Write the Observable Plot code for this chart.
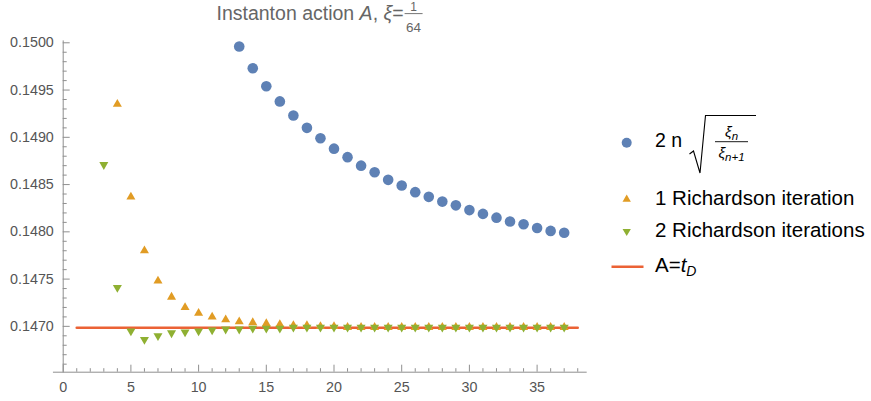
<!DOCTYPE html>
<html><head><meta charset="utf-8">
<script src="https://cdn.jsdelivr.net/npm/d3@7"></script>
<script src="https://cdn.jsdelivr.net/npm/@observablehq/plot@0.6"></script>
<style>
body{margin:0;background:#fff;font-family:"Liberation Sans",Arial,sans-serif}
#wrap{position:relative;width:871px;height:401px;overflow:hidden}
#chart{position:absolute;left:0;top:0}
#overlay{position:absolute;left:0;top:0}
</style></head><body>
<div id="wrap"><div id="chart"></div><svg id="overlay" width="871" height="401"></svg></div>
<script>
// ---- data ----
const blueN = [13,14,15,16,17,18,19,20,21,22,23,24,25,26,27,28,29,30,31,32,33,34,35,36,37];
const blueVals = [0.14996,0.14973,0.14954,0.14938,0.14923,0.14910,0.14899,0.14888,0.14879,0.14870,0.14863,0.14855,0.14849,0.14842,0.14837,0.14832,0.14828,0.14823,0.14819,0.14815,0.14811,0.14808,0.14804,0.14801,0.14799];

const orangeN = [4,5,6,7,8,9,10,11,12,13,14,15,16,17,18,19,20,21,22,23,24,25,26,27,28,29,30,31,32,33,34,35,36,37];
const orangeVals = [0.14935,0.14837,0.14780,0.14748,0.14731,0.14720,0.14714,0.14710,0.14707,0.14705,0.14704,0.14703,0.14702,0.14701,0.14701,0.14700,0.14700,0.14699,0.14699,0.14699,0.14699,0.14699,0.14699,0.14699,0.14699,0.14699,0.14699,0.14699,0.14699,0.14699,0.14699,0.14699,0.14699,0.14699];

const greenN = [3,4,5,6,7,8,9,10,11,12,13,14,15,16,17,18,19,20,21,22,23,24,25,26,27,28,29,30,31,32,33,34,35,36,37];
const greenVals = [0.14871,0.14741,0.14695,0.14686,0.14690,0.14693,0.14694,0.14695,0.14696,0.14697,0.14697,0.14698,0.14698,0.14698,0.14699,0.14699,0.14699,0.14699,0.14699,0.14699,0.14699,0.14699,0.14699,0.14699,0.14699,0.14699,0.14699,0.14699,0.14699,0.14699,0.14699,0.14699,0.14699,0.14699,0.14699];

const lineN = [1, 38];
const tD = 0.146986;

const xMajorTicks = [0,5,10,15,20,25,30,35];
const xMinorTicks = [1,2,3,4,6,7,8,9,11,12,13,14,16,17,18,19,21,22,23,24,26,27,28,29,31,32,33,34,36,37,38];
const yMajorTicks = [0.1470,0.1475,0.1480,0.1485,0.1490,0.1495,0.1500];
const yMinorTicks = [0.1466,0.1467,0.1468,0.1469,0.1471,0.1472,0.1473,0.1474,0.1476,0.1477,0.1478,0.1479,0.1481,0.1482,0.1483,0.1484,0.1486,0.1487,0.1488,0.1489,0.1491,0.1492,0.1493,0.1494,0.1496,0.1497,0.1498,0.1499];

const seriesLabels = ["1 Richardson iteration", "2 Richardson iterations"];
const colors = {blue: "#5E81B5", orange: "#E19C24", green: "#8FB032", line: "#EB6235"};

// ---- build tables ----
const blue = blueN.map((n, i) => ({n, v: blueVals[i]}));
const orange = orangeN.map((n, i) => ({n, v: orangeVals[i]}));
const green = greenN.map((n, i) => ({n, v: greenVals[i]}));
const lineData = lineN.map(n => ({n, v: tD}));

const xDomain = [0, 38.7];
const yDomain = [0.146515, 0.15002];
const axisColor = "#8f8f8f";
const textColor = "#555";

const plot = Plot.plot({
  width: 600, height: 401,
  marginLeft: 62.7, marginRight: 13.3, marginTop: 40.4, marginBottom: 29.3,
  x: {domain: xDomain, label: null},
  y: {domain: yDomain, label: null},
  style: {fontFamily: "Liberation Sans, Arial, sans-serif", fontSize: "14.3px", color: textColor, background: "transparent", overflow: "visible"},
  marks: [
    Plot.ruleY([yDomain[0]], {x1: -0.72, x2: xDomain[1], stroke: axisColor}),
    Plot.ruleX([0], {y1: yDomain[0] - 0.000008, y2: yDomain[1], stroke: axisColor}),
    Plot.axisX({ticks: xMajorTicks, tickSize: -7, tickPadding: 17, stroke: axisColor, fill: textColor, label: null, tickFormat: d => String(d)}),
    Plot.axisX({ticks: xMinorTicks, tickSize: -3.5, tickPadding: 0, stroke: axisColor, label: null, tickFormat: () => ""}),
    Plot.axisY({ticks: yMajorTicks, tickSize: -7, tickPadding: 16.4, stroke: axisColor, fill: textColor, label: null, tickFormat: d3.format(".4f")}),
    Plot.axisY({ticks: yMinorTicks, tickSize: -4, tickPadding: 0, stroke: axisColor, label: null, tickFormat: () => ""}),
    Plot.line(lineData, {x: "n", y: "v", stroke: colors.line, strokeWidth: 2.6}),
    Plot.dot(blue, {x: "n", y: "v", fill: colors.blue, r: 5.3, symbol: "circle"}),
    Plot.dot(orange, {x: "n", y: "v", fill: colors.orange, r: 3.35, symbol: "triangle"}),
    Plot.dot(green, {x: "n", y: "v", fill: colors.green, r: 3.35, symbol: "triangle", rotate: 180})
  ]
});
document.getElementById("chart").appendChild(plot);

// ---- title and legend (overlay) ----
const ov = d3.select("#overlay");
const ff = "Liberation Sans, Arial, sans-serif";

// title
const title = ov.append("text").attr("x", 216.5).attr("y", 19.5).attr("font-family", ff)
  .attr("font-size", 19.5).attr("fill", "#666");
title.append("tspan").text("Instanton action ");
title.append("tspan").attr("font-style", "italic").text("A");
title.append("tspan").text(", ");
title.append("tspan").attr("font-style", "italic").text("ξ");
title.append("tspan").text("=");
const tw = title.node().getComputedTextLength();
const fx = 216.5 + tw + 10;
ov.append("text").attr("x", fx).attr("y", 11).attr("text-anchor", "middle").attr("font-family", ff)
  .attr("font-size", 12).attr("fill", "#666").text("1");
ov.append("line").attr("x1", fx - 9).attr("x2", fx + 9).attr("y1", 13.6).attr("y2", 13.6)
  .attr("stroke", "#666").attr("stroke-width", 0.9);
ov.append("text").attr("x", fx).attr("y", 31.5).attr("text-anchor", "middle").attr("font-family", ff)
  .attr("font-size", 13.5).attr("fill", "#666").text("64");

// legend
const lg = ov.append("g").attr("font-family", ff).attr("fill", "#000");
const sym = d3.symbol();
lg.append("circle").attr("cx", 626.7).attr("cy", 142.7).attr("r", 5).attr("fill", colors.blue);
lg.append("path").attr("transform", "translate(626.7,199.3)").attr("d", sym.type(d3.symbolTriangle).size(30)()).attr("fill", colors.orange);
lg.append("path").attr("transform", "translate(626.7,231.3) rotate(180)").attr("d", sym.type(d3.symbolTriangle).size(30)()).attr("fill", colors.green);
lg.append("line").attr("x1", 611.5).attr("x2", 643.5).attr("y1", 266.7).attr("y2", 266.7).attr("stroke", colors.line).attr("stroke-width", 2.4);

// formula 2 n sqrt(xi_n / xi_{n+1})
lg.append("text").attr("x", 655).attr("y", 146.7).attr("font-size", 19.5).text("2 n");
lg.append("path").attr("d", "M689.5,154 L693.5,151 L700,173 L705.5,115.5 L756,115.5")
  .attr("fill", "none").attr("stroke", "#000").attr("stroke-width", 1.1);
const num = lg.append("text").attr("x", 731.5).attr("y", 136.5).attr("text-anchor", "middle").attr("font-size", 15).attr("font-style", "italic");
num.append("tspan").text("ξ");
num.append("tspan").attr("font-size", 11.5).attr("dy", 3).text("n");
lg.append("line").attr("x1", 715).attr("x2", 748).attr("y1", 141.7).attr("y2", 141.7).attr("stroke", "#000").attr("stroke-width", 0.9);
const den = lg.append("text").attr("x", 731.5).attr("y", 158).attr("text-anchor", "middle").attr("font-size", 15).attr("font-style", "italic");
den.append("tspan").text("ξ");
den.append("tspan").attr("font-size", 11.5).attr("dy", 3).text("n+1");

lg.append("text").attr("x", 655).attr("y", 205).attr("font-size", 20.5).text(seriesLabels[0]);
lg.append("text").attr("x", 655).attr("y", 237.3).attr("font-size", 20.5).text(seriesLabels[1]);
const at = lg.append("text").attr("x", 655).attr("y", 271.5).attr("font-size", 20.5);
at.append("tspan").text("A=");
at.append("tspan").attr("font-style", "italic").text("t");
at.append("tspan").attr("font-style", "italic").attr("font-size", 14).attr("dy", 4).text("D");
</script>
</body></html>
